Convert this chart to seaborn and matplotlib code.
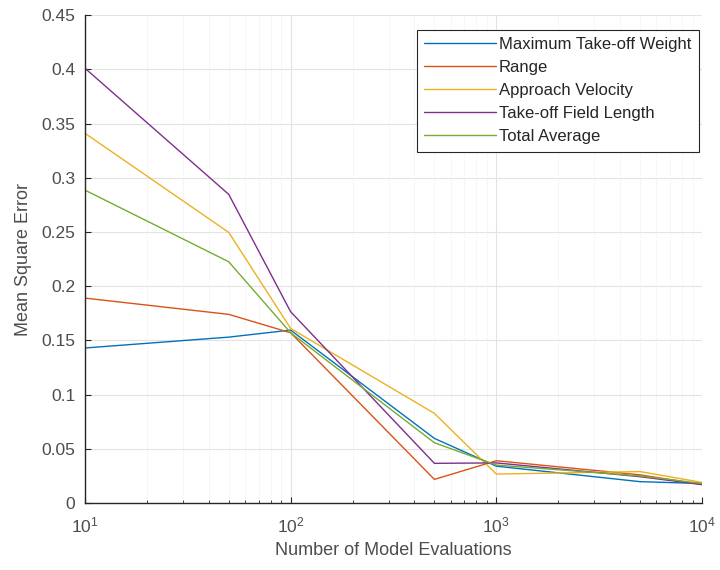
import numpy as np
import pandas as pd
import matplotlib
matplotlib.use("Agg")
import matplotlib.pyplot as plt
import seaborn as sns
from matplotlib.ticker import LogLocator, FixedLocator, NullFormatter

evaluations = [10, 50, 100, 500, 1000, 5000, 10000]
mtow = [0.143, 0.153, 0.1595, 0.0596, 0.034, 0.0197, 0.018]
range_err = [0.189, 0.174, 0.157, 0.0218, 0.039, 0.026, 0.017]
approach_vel = [0.341, 0.2496, 0.161, 0.0827, 0.0267, 0.029, 0.019]
tofl = [0.401, 0.2847, 0.1764, 0.0366, 0.037, 0.0243, 0.017]
total_avg = [0.2886, 0.2225, 0.157, 0.0556, 0.035, 0.025, 0.018]

series_names = ["Maximum Take-off Weight", "Range", "Approach Velocity",
                "Take-off Field Length", "Total Average"]
colors = ["#0072BD", "#D95319", "#EDB120", "#7E2F8E", "#77AC30"]

df = pd.DataFrame({"evals": evaluations * 5,
                   "mse": mtow + range_err + approach_vel + tofl + total_avg,
                   "series": sum([[n] * len(evaluations) for n in series_names], [])})

sns.set_style("white")
plt.rcParams['font.family'] = ['Liberation Sans', 'DejaVu Sans']
plt.rcParams['mathtext.fontset'] = 'custom'
plt.rcParams['mathtext.rm'] = 'Liberation Sans'
plt.rcParams['mathtext.it'] = 'Liberation Sans'
plt.rcParams['mathtext.bf'] = 'Liberation Sans'

fig = plt.figure(figsize=(7.2, 5.7), dpi=100)
ax = fig.add_axes([0.118, 0.1175, 0.857, 0.856])

sns.lineplot(data=df, x="evals", y="mse", hue="series", hue_order=series_names,
             palette=colors, linewidth=1.0, ax=ax, legend=True)

ax.set_xscale("log")
ax.set_xlim(10, 10000)
ax.set_ylim(0, 0.45)
ax.set_yticks(np.arange(0, 0.451, 0.05))
ax.set_yticklabels(["0", "0.05", "0.1", "0.15", "0.2", "0.25", "0.3", "0.35", "0.4", "0.45"])
ax.xaxis.set_major_locator(FixedLocator([10, 100, 1000, 10000]))
ax.set_xticklabels([r"$\mathrm{10^{1}}$", r"$\mathrm{10^{2}}$", r"$\mathrm{10^{3}}$", r"$\mathrm{10^{4}}$"])
ax.xaxis.set_minor_locator(LogLocator(base=10, subs=np.arange(2, 10), numticks=20))
ax.xaxis.set_minor_formatter(NullFormatter())

ax.grid(True, which="major", color="#e3e3e3", linewidth=0.8, linestyle="-")
ax.grid(True, which="minor", axis="x", color="#e8e8e8", linewidth=0.7, linestyle=":")
ax.set_axisbelow(True)

for s in ["top", "right"]:
    ax.spines[s].set_visible(False)
for s in ["left", "bottom"]:
    ax.spines[s].set_color("#262626")
    ax.spines[s].set_linewidth(1.0)

ax.tick_params(axis="both", which="major", direction="in", length=4, width=0.8,
               colors="#262626", labelsize=12.5, labelcolor="#4d4d4d")
ax.tick_params(axis="y", which="major", pad=7)
ax.tick_params(axis="x", which="minor", direction="in", length=2.5, width=0.6, colors="#262626")
ax.tick_params(axis="x", which="major", pad=9)
ax.xaxis.set_ticks_position("bottom")
ax.yaxis.set_ticks_position("left")

ax.set_xlabel("Number of Model Evaluations", fontsize=13, color="#4d4d4d", labelpad=5)
ax.set_ylabel("Mean Square Error", fontsize=13, color="#4d4d4d", labelpad=7)

leg = ax.legend(loc="upper right", bbox_to_anchor=(0.995, 0.97), fontsize=12,
                frameon=True, fancybox=False, edgecolor="#262626", framealpha=1,
                handlelength=4.3, handletextpad=0.2, borderpad=0.45, labelspacing=0.48,
                borderaxespad=0)
leg.get_frame().set_linewidth(0.8)
for t in leg.get_texts():
    t.set_color("#262626")

fig.savefig("out.png", dpi=100)
